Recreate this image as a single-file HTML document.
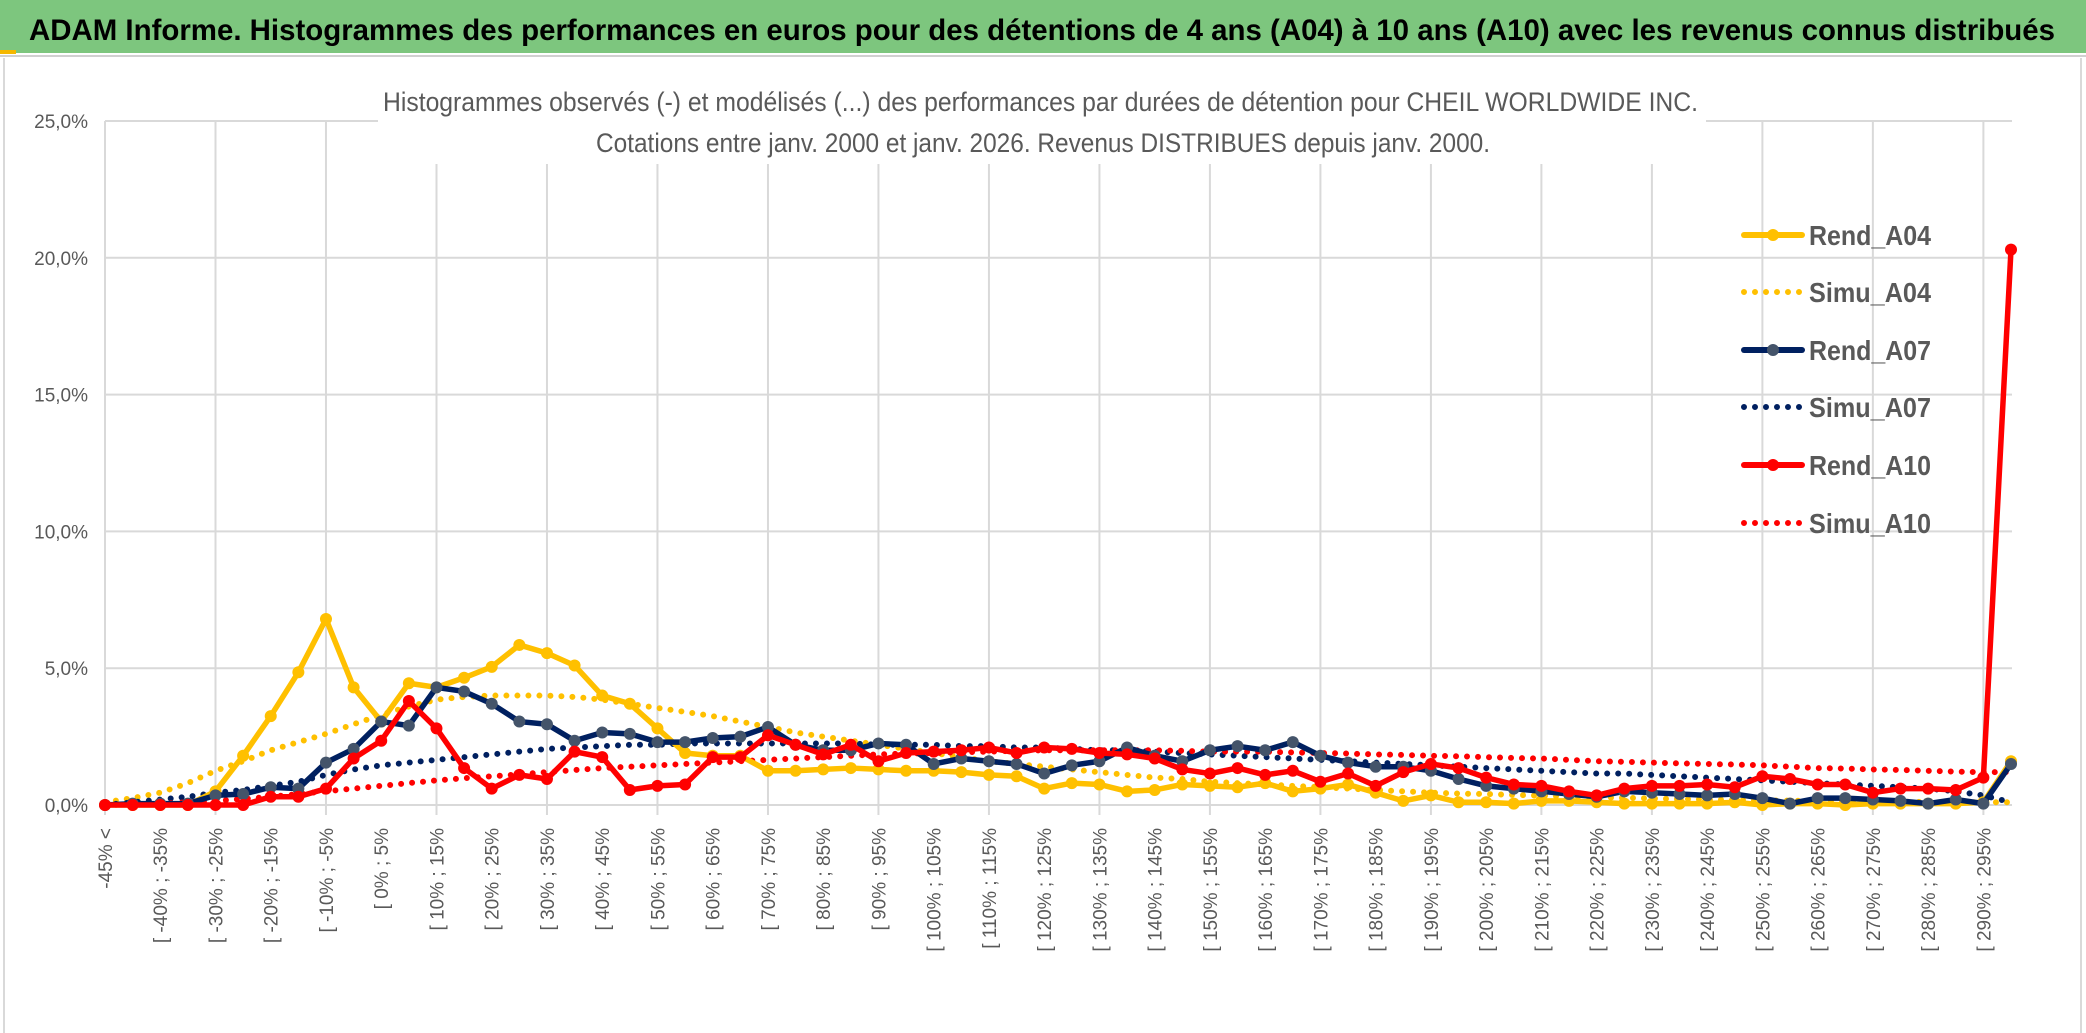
<!DOCTYPE html>
<html><head><meta charset="utf-8"><style>
html,body{margin:0;padding:0;background:#fff;}
svg{display:block;font-family:"Liberation Sans",sans-serif;}
</style></head><body>
<svg id="chart" width="2086" height="1033" viewBox="0 0 2086 1033" xmlns="http://www.w3.org/2000/svg">
<rect x="0" y="0" width="2086" height="1033" fill="#fff"/>
<rect x="0" y="0" width="2086" height="53" fill="#7dc67e"/>
<rect x="0" y="50" width="16" height="4" fill="#f5b800"/>
<line x1="0" y1="56" x2="2086" y2="56" stroke="#d0d0d0" stroke-width="2"/>
<line x1="4" y1="58" x2="4" y2="1033" stroke="#d9d9d9" stroke-width="2"/>
<line x1="2081" y1="58" x2="2081" y2="1033" stroke="#d9d9d9" stroke-width="2"/>
<text x="29" y="40" font-size="30" font-weight="bold" fill="#000" textLength="2026" lengthAdjust="spacingAndGlyphs">ADAM Informe. Histogrammes des performances en euros pour des détentions de 4 ans (A04) à 10 ans (A10) avec les revenus connus distribués</text>
<g id="grid"></g>
<rect x="378" y="78" width="1328" height="86" fill="#fff"/>
<text x="383" y="111" font-size="27" fill="#595959" textLength="1315" lengthAdjust="spacingAndGlyphs">Histogrammes observés (-) et modélisés (...) des performances par durées de détention pour CHEIL WORLDWIDE INC.</text>
<text x="596" y="152" font-size="27" fill="#595959" textLength="894" lengthAdjust="spacingAndGlyphs">Cotations entre janv. 2000 et janv. 2026. Revenus DISTRIBUES depuis janv. 2000.</text>
<g id="axes"></g>
<g id="series"></g>
<g id="legend"></g>
</svg>
<script>
const categories = ["-45% <"];
for (let k = 0; k < 69; k++) { const a = -45 + 5 * k; categories.push("[ " + a + "% ; " + (a + 5) + "%"); }
const yTicks = [0, 5, 10, 15, 20, 25];
const yTickLabels = ["0,0%", "5,0%", "10,0%", "15,0%", "20,0%", "25,0%"];
const rendA04 = [0,0,0,0,0.5,1.8,3.25,4.85,6.8,4.3,3.05,4.45,4.3,4.65,5.05,5.85,5.55,5.1,4.0,3.7,2.8,1.9,1.8,1.8,1.25,1.25,1.3,1.35,1.3,1.25,1.25,1.2,1.1,1.05,0.6,0.8,0.75,0.5,0.55,0.75,0.7,0.65,0.8,0.5,0.6,0.75,0.45,0.15,0.35,0.1,0.1,0.05,0.15,0.15,0.1,0.05,0.05,0.05,0.05,0.1,0,0.05,0.05,0,0.05,0.05,0.05,0.05,0.1,1.6];
const rendA07 = [0,0.05,0.05,0.05,0.35,0.4,0.65,0.6,1.55,2.05,3.05,2.9,4.3,4.15,3.7,3.05,2.95,2.35,2.65,2.6,2.3,2.3,2.45,2.5,2.85,2.2,2.0,2.0,2.25,2.2,1.5,1.7,1.6,1.5,1.15,1.45,1.6,2.1,1.8,1.6,2.0,2.15,2.0,2.3,1.8,1.55,1.4,1.4,1.25,0.95,0.7,0.6,0.5,0.4,0.3,0.5,0.45,0.4,0.35,0.4,0.25,0.05,0.25,0.25,0.2,0.15,0.05,0.2,0.05,1.5];
const rendA10 = [0,0,0,0,0,0,0.3,0.3,0.6,1.7,2.35,3.8,2.8,1.35,0.6,1.1,0.95,1.95,1.75,0.55,0.7,0.75,1.75,1.75,2.55,2.2,1.85,2.2,1.6,1.9,1.95,2.0,2.1,1.9,2.1,2.05,1.9,1.85,1.7,1.3,1.15,1.35,1.1,1.25,0.85,1.15,0.7,1.2,1.5,1.35,1.0,0.75,0.7,0.5,0.35,0.6,0.7,0.7,0.75,0.65,1.05,0.95,0.75,0.75,0.45,0.6,0.6,0.55,1.0,20.3];
const simuA04 = [0.1,0.25,0.45,0.8,1.25,1.6,2.0,2.3,2.6,2.95,3.3,3.6,3.85,3.95,4.0,4.0,4.0,3.95,3.85,3.7,3.55,3.4,3.25,3.05,2.85,2.65,2.5,2.35,2.2,2.05,1.9,1.75,1.6,1.5,1.4,1.3,1.2,1.1,1.0,0.95,0.85,0.8,0.75,0.7,0.65,0.6,0.55,0.5,0.45,0.42,0.4,0.37,0.34,0.31,0.28,0.26,0.24,0.22,0.2,0.18,0.17,0.16,0.15,0.14,0.13,0.12,0.11,0.1,0.1,0.1];
const simuA07 = [0,0.1,0.2,0.3,0.45,0.55,0.7,0.85,1.1,1.3,1.45,1.55,1.65,1.75,1.85,1.95,2.05,2.1,2.15,2.2,2.2,2.25,2.25,2.25,2.25,2.25,2.25,2.25,2.2,2.2,2.2,2.15,2.15,2.1,2.1,2.05,2.0,2.0,1.95,1.9,1.85,1.8,1.75,1.7,1.65,1.6,1.55,1.5,1.45,1.4,1.35,1.3,1.25,1.2,1.15,1.15,1.1,1.05,1.0,0.95,0.9,0.85,0.8,0.75,0.7,0.65,0.6,0.5,0.35,0.1];
const simuA10 = [0,0.02,0.05,0.1,0.15,0.22,0.3,0.4,0.5,0.6,0.7,0.8,0.9,0.98,1.05,1.12,1.2,1.28,1.35,1.4,1.45,1.5,1.55,1.6,1.65,1.7,1.75,1.8,1.85,1.88,1.9,1.93,1.95,1.98,2.0,2.0,2.0,2.0,2.0,1.98,1.95,1.95,1.95,1.92,1.9,1.88,1.85,1.83,1.8,1.78,1.75,1.72,1.7,1.65,1.6,1.58,1.55,1.52,1.5,1.48,1.45,1.4,1.35,1.33,1.3,1.28,1.25,1.22,1.2,1.2];

const NS = "http://www.w3.org/2000/svg";
const X0 = 105, XSTEP = (2011 - 105) / 69, Y0 = 805, YPER = 27.36;
const xPos = i => X0 + i * XSTEP;
const yPos = v => Y0 - v * YPER;
function mk(tag, attrs, parent) {
  const e = document.createElementNS(NS, tag);
  for (const k in attrs) e.setAttribute(k, attrs[k]);
  parent.appendChild(e);
  return e;
}
const grid = document.getElementById("grid");
const axes = document.getElementById("axes");
yTicks.forEach((t, j) => {
  const l = mk("line", {x1: X0, x2: 2012, y1: yPos(t), y2: yPos(t), stroke: "#d9d9d9", "stroke-width": 2}, grid);
  
  
  const tx = mk("text", {x: 88, y: yPos(t) + 7, "font-size": 19, fill: "#595959", "text-anchor": "end"}, axes);
  tx.textContent = yTickLabels[j];
  
  
});
for (let i = 0; i < categories.length; i += 4) {
  const l = mk("line", {x1: xPos(i), x2: xPos(i), y1: yPos(25), y2: Y0 + 10, stroke: "#d9d9d9", "stroke-width": 2}, grid);
  
  
}
categories.forEach((c, i) => {
  if (i % 2 !== 0) return;
  const x = xPos(i) + 7, y = 828;
  const tx = mk("text", {x: x, y: y, "font-size": 19, fill: "#595959", "text-anchor": "end", transform: "rotate(-90 " + x + " " + y + ")"}, axes);
  tx.textContent = c;
  
  
});

const series = document.getElementById("series");
function drawSim(vals, color, name) {
  const pts = vals.map((v, i) => xPos(i) + "," + yPos(v)).join(" ");
  const p = mk("polyline", {points: pts, fill: "none", stroke: color, "stroke-width": 6, "stroke-linecap": "round", "stroke-dasharray": "0 11"}, series);
  
  
}
function drawRend(vals, color, mcolor, name) {
  const g = mk("g", {}, series);
  
  
  const pts = vals.map((v, i) => xPos(i) + "," + yPos(v)).join(" ");
  mk("polyline", {points: pts, fill: "none", stroke: color, "stroke-width": 5.5, "stroke-linejoin": "round"}, g);
  vals.forEach((v, i) => {
    const c = mk("circle", {cx: xPos(i), cy: yPos(v), r: 6, fill: mcolor}, g);
    
    
  });
}
drawSim(simuA04, "#ffc000", "simu-a04-line");
drawSim(simuA07, "#002060", "simu-a07-line");
drawSim(simuA10, "#ff0000", "simu-a10-line");
drawRend(rendA04, "#ffc000", "#ffc000", "rend-a04-line");
drawRend(rendA07, "#002060", "#44546a", "rend-a07-line");
drawRend(rendA10, "#ff0000", "#ff0000", "rend-a10-line");

const legend = document.getElementById("legend");
const legendNames = ["Rend_A04", "Simu_A04", "Rend_A07", "Simu_A07", "Rend_A10", "Simu_A10"];
const legendColors = ["#ffc000", "#ffc000", "#002060", "#002060", "#ff0000", "#ff0000"];
const legendY = [235, 292, 350, 407, 465, 523];
legendNames.forEach((n, j) => {
  const g = mk("g", {}, legend);
  
  
  const y = legendY[j];
  if (j % 2 === 0) {
    mk("line", {x1: 1744, x2: 1802, y1: y, y2: y, stroke: legendColors[j], "stroke-width": 6, "stroke-linecap": "round"}, g);
    mk("circle", {cx: 1773, cy: y, r: 6, fill: j === 2 ? "#44546a" : legendColors[j]}, g);
  } else {
    mk("line", {x1: 1744, x2: 1802, y1: y, y2: y, stroke: legendColors[j], "stroke-width": 6, "stroke-linecap": "round", "stroke-dasharray": "0 11"}, g);
  }
  const t = mk("text", {x: 1809, y: y + 10, "font-size": 28, "font-weight": "bold", fill: "#595959", textLength: 122, lengthAdjust: "spacingAndGlyphs"}, g);
  t.textContent = n;
});
</script>
</body></html>
